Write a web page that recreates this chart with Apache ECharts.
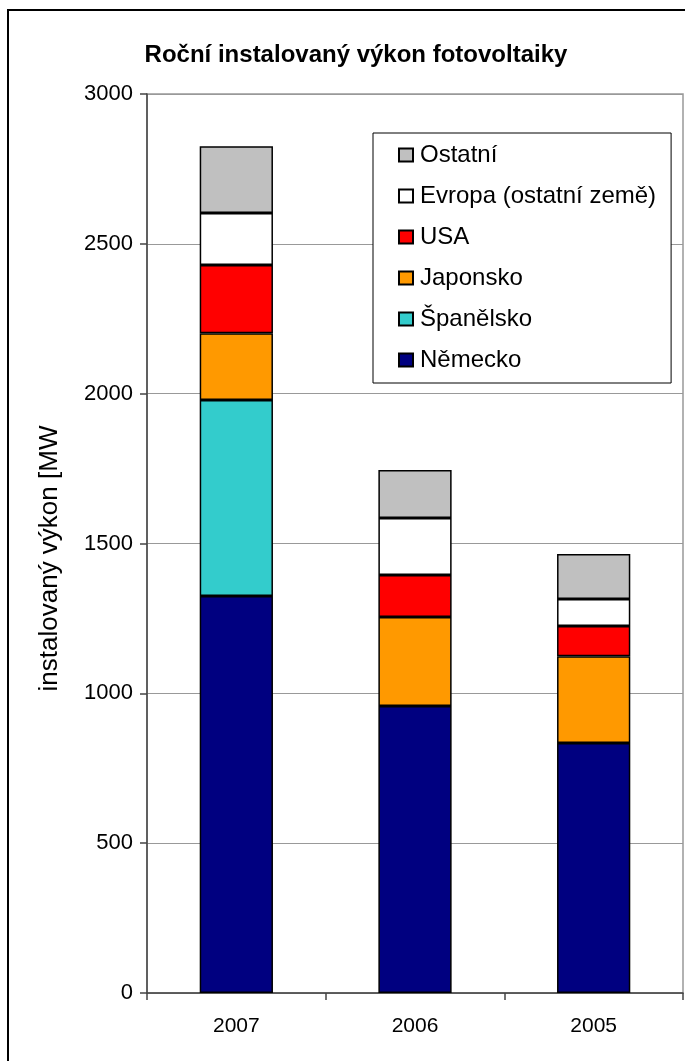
<!DOCTYPE html>
<html>
<head>
<meta charset="utf-8">
<script src="https://cdn.jsdelivr.net/npm/echarts@6/dist/echarts.min.js"></script>
<style>
  html, body { margin: 0; padding: 0; background: #fff; }
  #chart { width: 685px; height: 1061px; }
</style>
</head>
<body>
<div id="chart"></div>
<script>
// Annual installed photovoltaic capacity (MW) by country
const years = ['2007', '2006', '2005'];
const nemecko = [1325, 958, 834];
const spanelsko = [654, '-', '-'];
const japonsko = [223, 297, 290];
const usa = [227, 140, 101];
const evropa = [174, 190, 90];
const ostatni = [223, 160, 150];
const legendOrder = ['Ostatní', 'Evropa (ostatní země)', 'USA', 'Japonsko', 'Španělsko', 'Německo'];

const seriesDefs = [
  { name: 'Německo', data: nemecko, color: '#000080' },
  { name: 'Španělsko', data: spanelsko, color: '#33CCCC' },
  { name: 'Japonsko', data: japonsko, color: '#FF9900' },
  { name: 'USA', data: usa, color: '#FF0000' },
  { name: 'Evropa (ostatní země)', data: evropa, color: '#FFFFFF' },
  { name: 'Ostatní', data: ostatni, color: '#C0C0C0' }
];

const font = '"Liberation Sans", Arial, sans-serif';
const chart = echarts.init(document.getElementById('chart'), null, { renderer: 'canvas' });

chart.setOption({
  animation: false,
  backgroundColor: '#ffffff',
  title: {
    text: 'Roční instalovaný výkon fotovoltaiky',
    left: 351,
    textAlign: 'center',
    top: 38,
    textStyle: { fontFamily: font, fontSize: 24, fontWeight: 'bold', color: '#000' }
  },
  grid: {
    left: 147, right: 2, top: 94, bottom: 68,
    show: true, borderColor: '#999999', borderWidth: 1.5, backgroundColor: 'transparent'
  },
  legend: {
    orient: 'vertical',
    left: 373,
    top: 133,
    data: legendOrder,
    icon: 'rect',
    itemWidth: 14,
    itemHeight: 13,
    itemGap: 17,
    padding: [10, 15, 11, 25],
    borderColor: '#000',
    borderWidth: 1,
    backgroundColor: '#fff',
    textStyle: { fontFamily: font, fontSize: 24, color: '#000', lineHeight: 24, padding: [0, 0, 0, 2] },
    selectedMode: false
  },
  xAxis: {
    type: 'category',
    data: years,
    axisLine: { lineStyle: { color: '#444', width: 1.5 } },
    axisTick: { show: true, length: 7, lineStyle: { color: '#444', width: 1.5 } },
    axisLabel: { fontFamily: font, fontSize: 21, color: '#000', margin: 23 }
  },
  yAxis: {
    type: 'value',
    min: 0,
    max: 3000,
    interval: 500,
    name: 'instalovaný výkon [MW',
    nameLocation: 'middle',
    nameGap: 84,
    nameTextStyle: { fontFamily: font, fontSize: 26, color: '#000', padding: [0, 30, 0, 0] },
    axisLine: { show: true, lineStyle: { color: '#444', width: 1.5 } },
    axisTick: { show: true, length: 7, lineStyle: { color: '#444', width: 1.5 } },
    axisLabel: { fontFamily: font, fontSize: 22, color: '#000', margin: 14, formatter: v => String(v) },
    splitLine: { show: true, lineStyle: { color: '#999999', width: 1 } }
  },
  series: seriesDefs.map(s => ({
    name: s.name,
    type: 'bar',
    stack: 'total',
    data: s.data,
    barWidth: '41%',
    itemStyle: { color: s.color, borderColor: '#000', borderWidth: 1.5 },
    emphasis: { disabled: true }
  })),
  graphic: [
    {
      type: 'rect',
      shape: { x: 8, y: 10, width: 720, height: 1100 },
      style: { fill: 'none', stroke: '#000', lineWidth: 2 },
      silent: true,
      z: 100
    }
  ]
});
</script>
</body>
</html>
